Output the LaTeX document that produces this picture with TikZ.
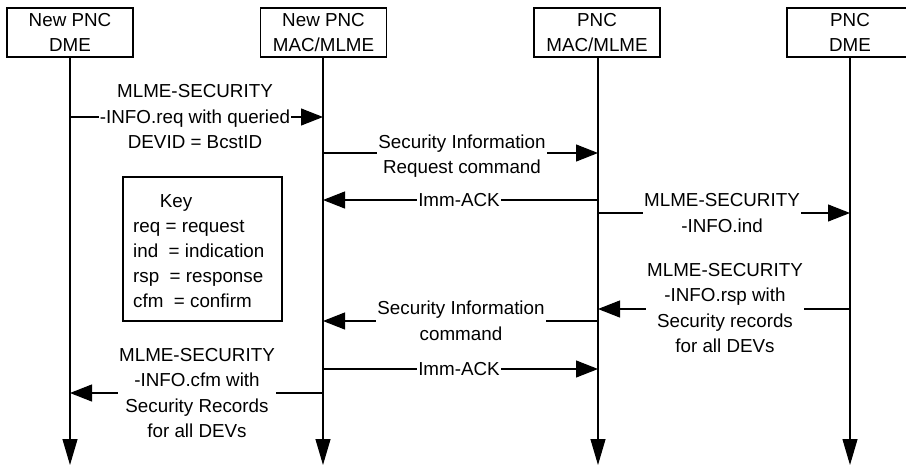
\documentclass[tikz,border=0pt]{standalone}
\usepackage{fontspec}
\setmainfont{Liberation Sans}
\usetikzlibrary{arrows.meta}
\begin{document}
\begin{tikzpicture}[x=1pt,y=-1pt,
  every node/.style={font=\fontsize{18.8}{25.5}\selectfont},
  ent/.style={draw,line width=1.1pt,minimum width=126pt,minimum height=49pt,align=center,inner sep=0pt},
  life/.style={line width=1.1pt,-{Triangle[length=26pt,width=15pt]}},
  msg/.style={line width=1.1pt,-{Triangle[length=22pt,width=17pt]}},
  lbl/.style={fill=white,align=center,inner sep=1pt}]
\useasboundingbox (0,0) rectangle (906,466);
% entities
\node[ent] (e1) at (70,32.5) {New PNC\\DME};
\node[ent] (e2) at (323.5,32.5) {New PNC\\MAC/MLME};
\node[ent] (e3) at (597,32.5) {PNC\\MAC/MLME};
\node[ent] (e4) at (850,32.5) {PNC\\DME};
% lifeline ends
\coordinate (b1) at (70,465);
\coordinate (b2) at (323,465);
\coordinate (b3) at (598,465);
\coordinate (b4) at (850,465);
\draw[life] (e1.south -| b1) -- (b1);
\draw[life] (e2.south -| b2) -- (b2);
\draw[life] (e3.south -| b3) -- (b3);
\draw[life] (e4.south -| b4) -- (b4);
% message anchors
\coordinate (m1a) at (70,117);  \coordinate (m1b) at (323,117);
\coordinate (m2a) at (323,153); \coordinate (m2b) at (598,153);
\coordinate (m3a) at (598,200); \coordinate (m3b) at (323,200);
\coordinate (m4a) at (598,213); \coordinate (m4b) at (850,213);
\coordinate (m5a) at (850,309); \coordinate (m5b) at (598,309);
\coordinate (m6a) at (598,321); \coordinate (m6b) at (323,321);
\coordinate (m7a) at (323,369); \coordinate (m7b) at (598,369);
\coordinate (m8a) at (323,393); \coordinate (m8b) at (70,393);
\draw[msg] (m1a) -- (m1b);
\draw[msg] (m2a) -- (m2b);
\draw[msg] (m3a) -- (m3b);
\draw[msg] (m4a) -- (m4b);
\draw[msg] (m5a) -- (m5b);
\draw[msg] (m6a) -- (m6b);
\draw[msg] (m7a) -- (m7b);
\draw[msg] (m8a) -- (m8b);
% labels
\node[lbl] (l1) at (195,117) {MLME-SECURITY\\-INFO.req with queried\\DEVID = BcstID};
\node[lbl] (l2) at (462,156) {Security Information\\Request command};
\node[lbl] (l3) at (459,200) {Imm-ACK};
\node[lbl] (l4) at (722,213) {MLME-SECURITY\\-INFO.ind};
\node[lbl] (l5) at (725,308) {MLME-SECURITY\\-INFO.rsp with\\Security records\\for all DEVs};
\node[lbl] (l6) at (461,321) {Security Information\\command};
\node[lbl] (l7) at (459,369) {Imm-ACK};
\node[lbl] (l8) at (197,393) {MLME-SECURITY\\-INFO.cfm with\\Security Records\\for all DEVs};
% key
\node[draw,line width=1.1pt,minimum width=159pt,minimum height=144pt,inner sep=0pt] (key) at (202.5,249) {};
\node[anchor=base,inner sep=0pt] (kt) at (176,207) {Key};
\node[anchor=base west,inner sep=0pt] (k1) at (133,232) {req = request};
\node[anchor=base west,inner sep=0pt] (k2) at (133,257) {ind\ \ = indication};
\node[anchor=base west,inner sep=0pt] (k3) at (133,282) {rsp\ \ = response};
\node[anchor=base west,inner sep=0pt] (k4) at (133,307) {cfm\ \ = confirm};
\end{tikzpicture}
\end{document}
